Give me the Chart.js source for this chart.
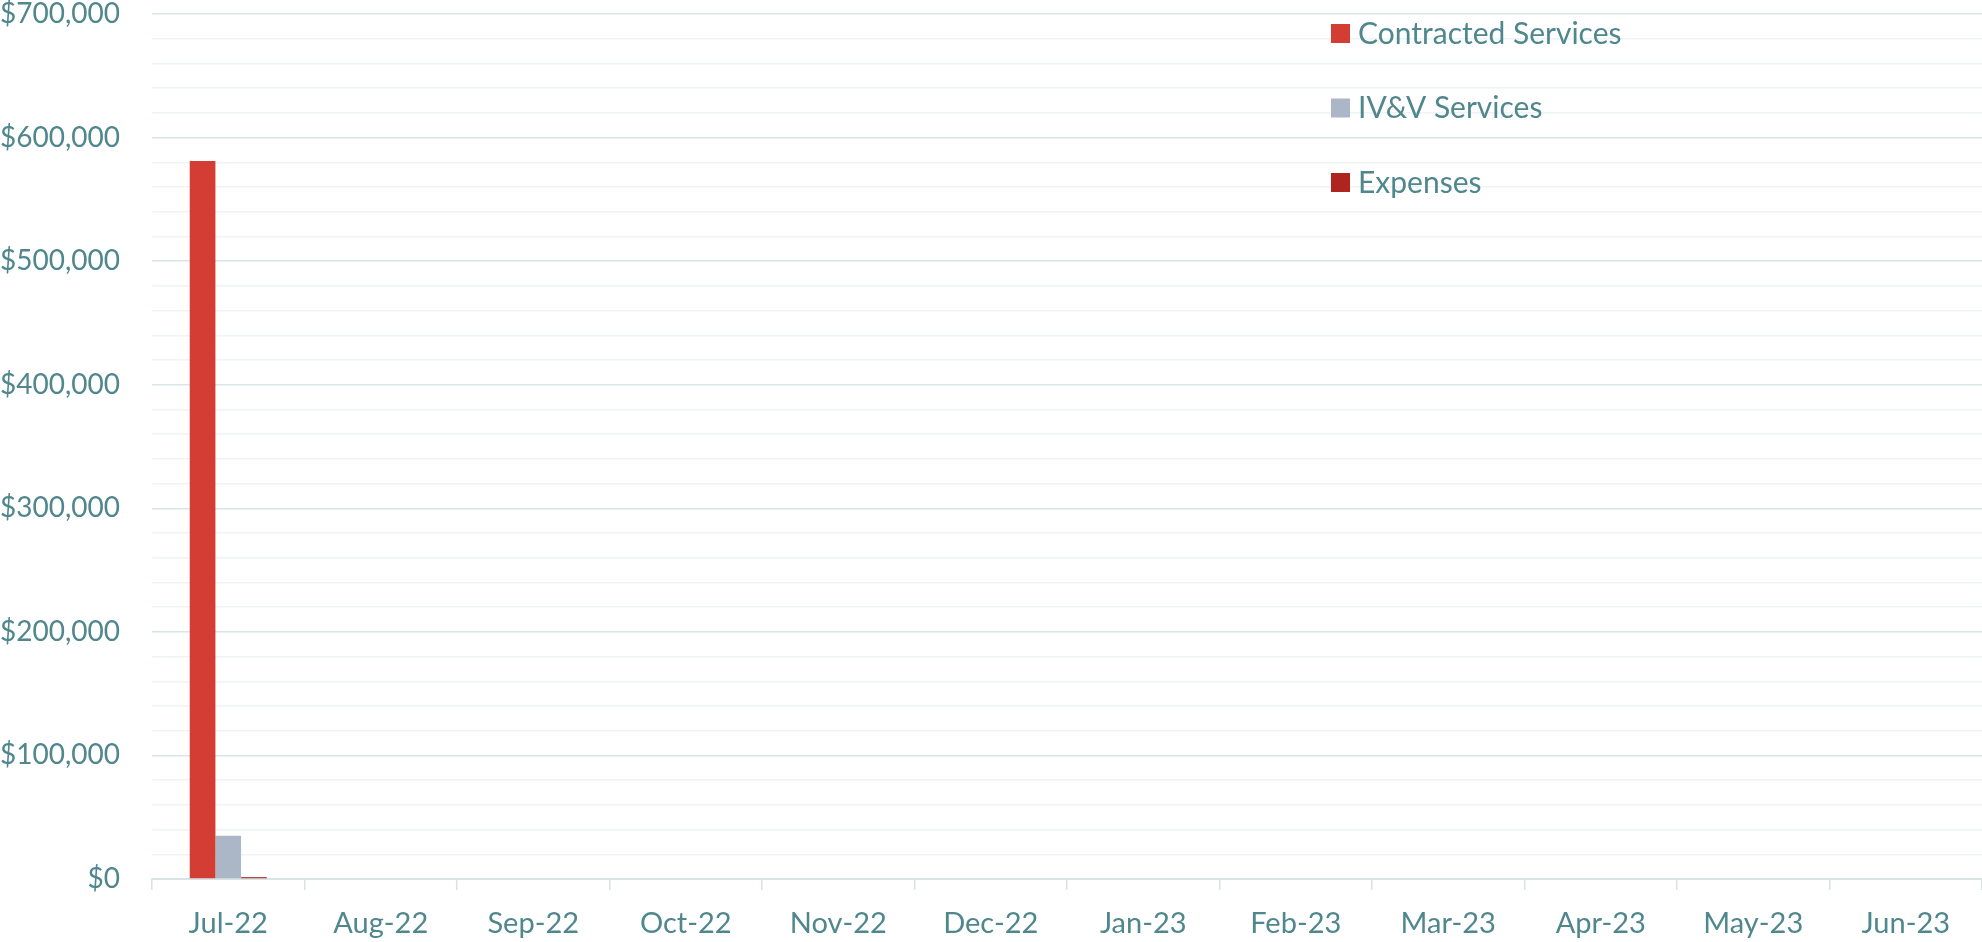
<!DOCTYPE html>
<html>
<head>
<meta charset="utf-8">
<script src="https://cdn.jsdelivr.net/npm/chart.js@4.4.1/dist/chart.umd.min.js"></script>
<style>
    html, body { margin: 0; padding: 0; background: #ffffff; }
    #wrap { width: 1982px; height: 942px; }
</style>
</head>
<body>
<div id="wrap"><canvas id="spendChart" width="1982" height="942"></canvas></div>
<script>
const months = ["Jul-22", "Aug-22", "Sep-22", "Oct-22", "Nov-22", "Dec-22",
    "Jan-23", "Feb-23", "Mar-23", "Apr-23", "May-23", "Jun-23"];
const contractedServices = [581000, 0, 0, 0, 0, 0, 0, 0, 0, 0, 0, 0];
const ivvServices = [35000, 0, 0, 0, 0, 0, 0, 0, 0, 0, 0, 0];
const expenses = [1500, 0, 0, 0, 0, 0, 0, 0, 0, 0, 0, 0];

const TEXT_COLOR = "#4f878d";
const FONT = "Lato, 'Open Sans', sans-serif";

// legend drawn inside the plot, stacked vertically at the top right
const sideLegend = {
    id: "sideLegend",
    afterDraw(chart) {
        const ctx = chart.ctx;
        const x = 1331;
        let y = 24;
        ctx.save();
        ctx.font = "30px " + FONT;
        ctx.textBaseline = "middle";
        chart.data.datasets.forEach((ds) => {
            ctx.fillStyle = ds.backgroundColor;
            ctx.fillRect(x, y, 19, 19);
            ctx.fillStyle = TEXT_COLOR;
            ctx.fillText(ds.label, x + 27, y + 10);
            y += 74.5;
        });
        ctx.restore();
    }
};

new Chart(document.getElementById("spendChart").getContext("2d"), {
    type: "bar",
    data: {
        labels: months,
        datasets: [
            { label: "Contracted Services", data: contractedServices, backgroundColor: "#d33d34" },
            { label: "IV&V Services", data: ivvServices, backgroundColor: "#abb6c6" },
            { label: "Expenses", data: expenses, backgroundColor: "#ae2520" }
        ]
    },
    options: {
        responsive: false,
        animation: false,
        categoryPercentage: 0.505,
        barPercentage: 1,
        layout: { padding: { top: 0, right: 0, left: 0, bottom: 2 } },
        plugins: {
            legend: { display: false },
            tooltip: { enabled: false }
        },
        scales: {
            x: {
                afterFit: (scale) => { scale.height = 61; },
                grid: {
                    drawOnChartArea: false,
                    drawTicks: true,
                    tickLength: 11,
                    color: "#d6e4e6",
                    lineWidth: 1.5
                },
                border: { display: true, color: "#d6e4e6", width: 2 },
                ticks: {
                    color: TEXT_COLOR,
                    font: { family: FONT, size: 29 },
                    padding: 16,
                    maxRotation: 0
                }
            },
            y: {
                min: 0,
                max: 700000,
                afterFit: (scale) => {
                    scale.width = 152;
                    scale.paddingTop = 14;
                    scale.paddingBottom = 14;
                },
                grid: {
                    drawTicks: false,
                    lineWidth: 1.5,
                    color: (c) => (c.tick && c.tick.value % 100000 === 0) ? "#d9e6e8" : "#eef4f4"
                },
                border: { display: false },
                ticks: {
                    stepSize: 20000,
                    autoSkip: false,
                    padding: 32,
                    color: TEXT_COLOR,
                    font: { family: FONT, size: 28 },
                    callback: (v) => v % 100000 === 0 ? "$" + v.toLocaleString("en-US") : ""
                }
            }
        }
    },
    plugins: [sideLegend]
});
</script>
</body>
</html>
